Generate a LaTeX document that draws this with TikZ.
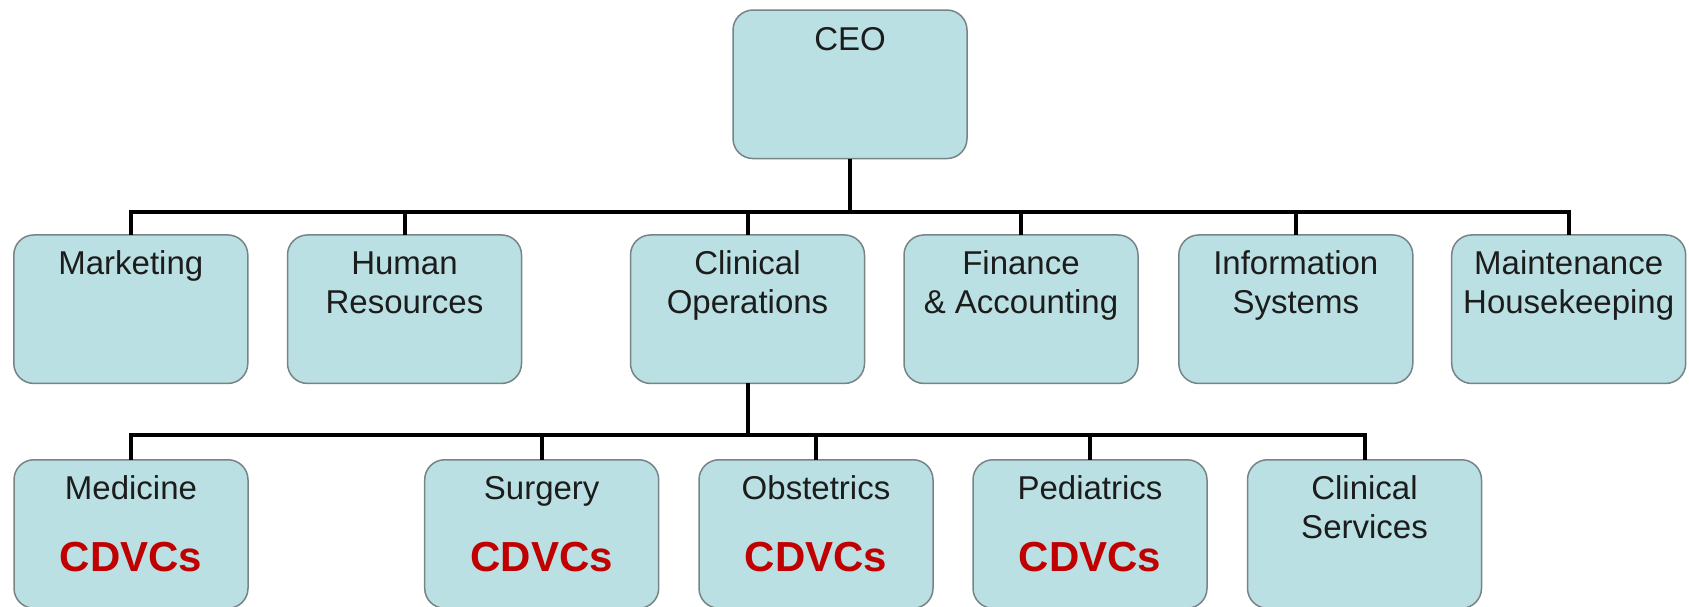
\documentclass[tikz,border=0pt]{standalone}
\usepackage{fontspec}
\setmainfont{Liberation Sans}
\usetikzlibrary{calc}
\definecolor{boxfill}{RGB}{187,224,227}
\definecolor{boxline}{RGB}{118,132,134}
\definecolor{txt}{RGB}{28,28,28}
\definecolor{cdv}{RGB}{192,0,0}

\begin{document}
\begin{tikzpicture}[x=1pt,y=-1pt,
  orgbox/.style={draw=boxline, line width=1.5pt, fill=boxfill, rounded corners=20pt,
    minimum width=234pt, minimum height=148.5pt, inner sep=0pt, outer sep=0pt},
  conn/.style={line width=4pt, black},
  lbl/.style={anchor=base, inner sep=0pt, text=txt, font=\fontsize{33}{38.5}\selectfont},
  tag/.style={anchor=base, inner sep=0pt, text=cdv, font=\fontsize{42}{48}\selectfont\bfseries}]

\useasboundingbox (0,0) rectangle (1689,607);

% top level
\node[orgbox] (ceo) at (850,84.3) {};
\node[lbl] (ceo-t) at ($(ceo.north)+(0,40.5)$) {CEO};

% departments
\node[orgbox] (mkt) at (130.8,309.2) {};
\node[orgbox] (hr)  at (404.5,309.2) {};
\node[orgbox] (cop) at (747.5,309.2) {};
\node[orgbox] (fin) at (1021,309.2) {};
\node[orgbox] (inf) at (1295.8,309.2) {};
\node[orgbox] (mnt) at (1568.7,309.2) {};

\node[lbl] (mkt-t) at ($(mkt.north)+(0,40)$) {Marketing};
\node[lbl] (hr-t)  at ($(hr.north)+(0,40)$)  {\begin{tabular}[t]{@{}c@{}}Human\\Resources\end{tabular}};
\node[lbl] (cop-t) at ($(cop.north)+(0,40)$) {\begin{tabular}[t]{@{}c@{}}Clinical\\Operations\end{tabular}};
\node[lbl] (fin-t) at ($(fin.north)+(0,40)$) {\begin{tabular}[t]{@{}c@{}}Finance\\\& Accounting\end{tabular}};
\node[lbl] (inf-t) at ($(inf.north)+(0,40)$) {\begin{tabular}[t]{@{}c@{}}Information\\Systems\end{tabular}};
\node[lbl] (mnt-t) at ($(mnt.north)+(0,40)$) {\begin{tabular}[t]{@{}c@{}}Maintenance\\Housekeeping\end{tabular}};

% clinical units
\node[orgbox] (med) at (131,534) {};
\node[orgbox] (sur) at (541.7,534) {};
\node[orgbox] (obs) at (816,534) {};
\node[orgbox] (ped) at (1090,534) {};
\node[orgbox] (csv) at (1364.5,534) {};

\node[lbl] (med-t) at ($(med.north)+(0,40)$) {Medicine};
\node[lbl] (sur-t) at ($(sur.north)+(0,40)$) {Surgery};
\node[lbl] (obs-t) at ($(obs.north)+(0,40)$) {Obstetrics};
\node[lbl] (ped-t) at ($(ped.north)+(0,40)$) {Pediatrics};
\node[lbl] (csv-t) at ($(csv.north)+(0,40)$) {\begin{tabular}[t]{@{}c@{}}Clinical\\Services\end{tabular}};

\foreach \n in {med,sur,obs,ped}
  \node[tag] (\n-c) at ($(\n.north)+(0,112)$) {CDVCs};

% reporting lines
\coordinate (bar1) at (850,211.5);
\draw[conn] (ceo.south) -- (ceo.south |- bar1);
\draw[conn] (mkt.north) -- (mkt.north |- bar1) -- (mnt.north |- bar1) -- (mnt.north);
\foreach \n in {hr,cop,fin,inf}
  \draw[conn] (\n.north) -- (\n.north |- bar1);

\coordinate (bar2) at (747.5,435);
\draw[conn] (cop.south) -- (cop.south |- bar2);
\draw[conn] (med.north) -- (med.north |- bar2) -- (csv.north |- bar2) -- (csv.north);
\foreach \n in {sur,obs,ped}
  \draw[conn] (\n.north) -- (\n.north |- bar2);
\end{tikzpicture}
\end{document}
